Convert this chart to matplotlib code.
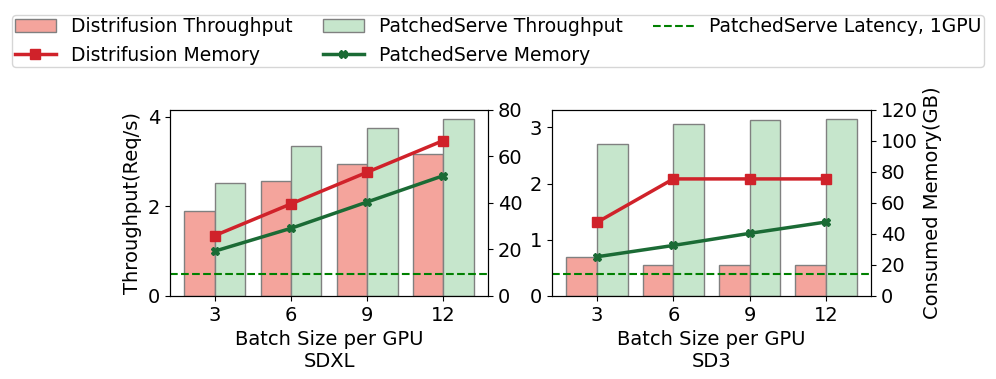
import numpy as np
import matplotlib.pyplot as plt

batch = ["3", "6", "9", "12"]

sdxl_dist_tput = [1.90, 2.58, 2.95, 3.17]
sdxl_ps_tput = [2.52, 3.36, 3.75, 3.96]
sdxl_dist_mem = [26.0, 39.6, 53.2, 66.8]
sdxl_ps_mem = [19.3, 29.1, 40.4, 51.7]
sdxl_latency = 0.49

sd3_dist_tput = [0.69, 0.56, 0.555, 0.56]
sd3_ps_tput = [2.71, 3.06, 3.13, 3.155]
sd3_dist_mem = [47.5, 75.5, 75.5, 75.5]
sd3_ps_mem = [25.3, 32.6, 40.4, 47.7]
sd3_latency = 0.39

red_bar = "#f4a49c"
green_bar = "#c6e6cc"
red_line = "#d0222a"
green_line = "#1b6b35"

plt.rcParams['font.size'] = 14
fig = plt.figure(figsize=(9.96, 3.79), dpi=100)

ax1 = fig.add_axes([0.1707, 0.219, 0.3193, 0.491])
ax2 = fig.add_axes([0.5542, 0.219, 0.3203, 0.491])


def panel(ax, dist_t, ps_t, dist_m, ps_m, lat, name, mem_max):
    x = np.arange(len(batch))
    w = 0.4
    b1 = ax.bar(x - w / 2, dist_t, w, color=red_bar, edgecolor="gray", linewidth=1,
                label="Distrifusion Throughput")
    b2 = ax.bar(x + w / 2, ps_t, w, color=green_bar, edgecolor="gray", linewidth=1,
                label="PatchedServe Throughput")
    hl = ax.axhline(lat, color="green", linestyle="--", linewidth=1.5,
                    label="PatchedServe Latency, 1GPU")
    ax.set_ylim(0, max(ps_t) * 1.05)
    ax.set_xticks(x)
    ax.set_xticklabels(batch)
    ax.set_xlabel("Batch Size per GPU\n" + name)
    tw = ax.twinx()
    l1, = tw.plot(x, dist_m, "s-", color=red_line, linewidth=2.5, markersize=7,
                  label="Distrifusion Memory")
    l2, = tw.plot(x, ps_m, "X-", color=green_line, linewidth=2.5, markersize=6,
                  label="PatchedServe Memory")
    tw.set_ylim(0, mem_max)
    return tw, [b1, l1, b2, l2, hl]


tw1, handles = panel(ax1, sdxl_dist_tput, sdxl_ps_tput, sdxl_dist_mem, sdxl_ps_mem,
                     sdxl_latency, "SDXL", 80)
ax1.set_yticks([0, 2, 4])
ax1.set_ylabel("Throughput(Req/s)")
tw1.set_yticks([0, 20, 40, 60, 80])

tw2, _ = panel(ax2, sd3_dist_tput, sd3_ps_tput, sd3_dist_mem, sd3_ps_mem,
               sd3_latency, "SD3", 120)
ax2.set_yticks([0, 1, 2, 3])
tw2.set_yticks([0, 20, 40, 60, 80, 100, 120])
tw2.set_ylabel("Consumed Memory(GB)")

fig.legend(handles, [h.get_label() for h in handles], loc="upper center",
           bbox_to_anchor=(0.5, 0.985), ncol=3, fontsize=13.5, frameon=True,
           columnspacing=1.6, handlelength=2.2, borderpad=0.12)

plt.savefig("out.png", dpi=100)
